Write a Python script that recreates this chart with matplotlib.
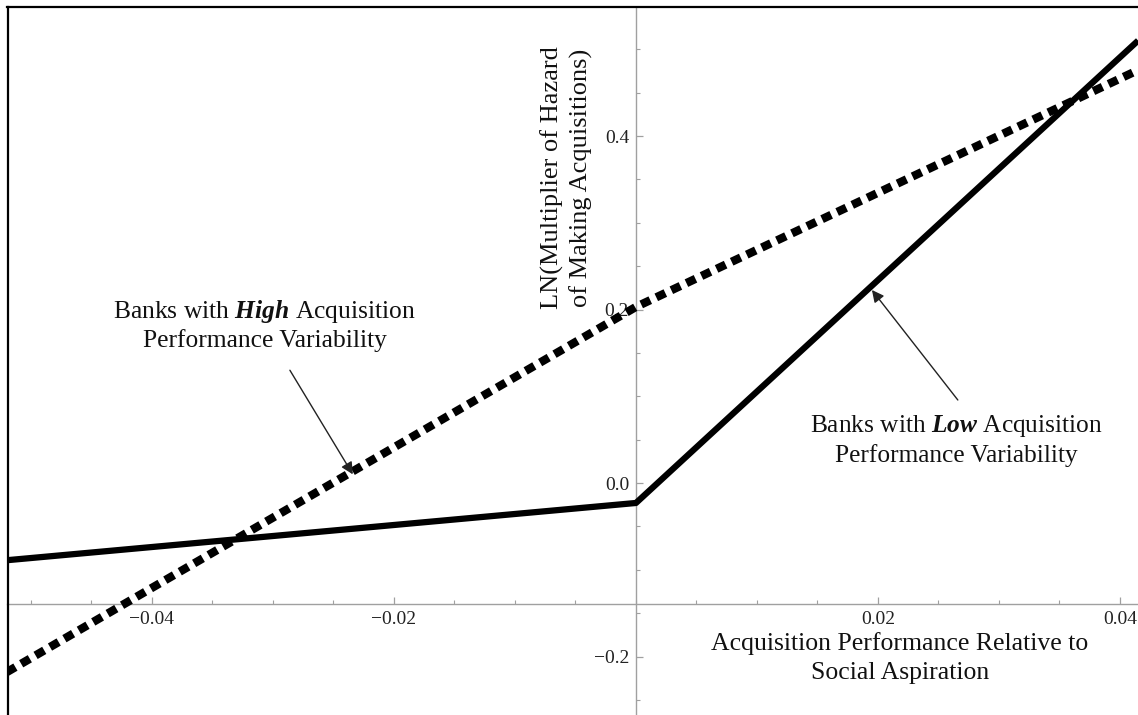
import matplotlib
matplotlib.use("Agg")
import matplotlib.pyplot as plt
from matplotlib.lines import Line2D
from matplotlib.ticker import MultipleLocator, FixedLocator

plt.rcParams['font.family'] = ['Liberation Serif', 'DejaVu Serif']
plt.rcParams['mathtext.fontset'] = 'custom'
plt.rcParams['mathtext.rm'] = 'Liberation Serif'
plt.rcParams['mathtext.it'] = 'Liberation Serif:italic'
plt.rcParams['mathtext.bf'] = 'Liberation Serif:italic:bold'

# values
perf_x = [-0.052, 0.0, 0.0415]
low_var = [-0.089, -0.023, 0.51]    # solid line
high_var = [-0.218, 0.203, 0.476]   # dotted line

x_ticks = [-0.04, -0.02, 0.02, 0.04]
x_tick_labels = ["\u22120.04", "\u22120.02", "0.02", "0.04"]
y_ticks = [-0.2, 0.0, 0.2, 0.4]
y_tick_labels = ["\u22120.2", "0.0", "0.2", "0.4"]

fig = plt.figure(figsize=(11.38, 7.15), dpi=100)
ax = fig.add_axes([7 / 1138, 0, 1131 / 1138, 708 / 715])
ax.set_xlim(-0.05198, 0.04149)
ax.set_ylim(-0.2674, 0.5487)

# mathematica style axes crossing inside the plot
ax.spines['left'].set_position(('data', 0.0))
ax.spines['bottom'].set_position(('data', -0.14))
for s in ['left', 'bottom']:
    ax.spines[s].set_color('#a0a0a0')
    ax.spines[s].set_linewidth(1.0)
ax.spines['right'].set_visible(False)
ax.spines['top'].set_color('black')
ax.spines['top'].set_linewidth(1.6)

ax.xaxis.set_major_locator(FixedLocator(x_ticks))
ax.set_xticklabels(x_tick_labels)
ax.xaxis.set_minor_locator(MultipleLocator(0.005))
ax.yaxis.set_major_locator(FixedLocator(y_ticks))
ax.set_yticklabels(y_tick_labels)
ax.yaxis.set_minor_locator(MultipleLocator(0.05))
ax.tick_params(which='both', direction='in', color='#a0a0a0', labelcolor='#222222',
               labelsize=14, top=False, right=False)
ax.tick_params(which='major', length=5, width=0.9, pad=5)
ax.tick_params(which='minor', length=3, width=0.8)

ax.plot(perf_x, low_var, color='black', lw=4.5, solid_capstyle='butt', zorder=3)
ax.plot(perf_x, high_var, color='black', lw=6, dashes=(1.2, 0.8),
        dash_capstyle='butt', zorder=3)

# left frame line of the figure
fig.add_artist(Line2D([7.5 / 1138, 7.5 / 1138], [0, 708 / 715], color='black', lw=1.6))

ax.text(0.0218, -0.2017, "Acquisition Performance Relative to\nSocial Aspiration",
        ha='center', va='center', fontsize=18.5, linespacing=1.36, color='#111111')
ax.text(-0.0057, 0.3516, "LN(Multiplier of Hazard\nof Making Acquisitions)",
        ha='center', va='center', rotation=90, fontsize=19, linespacing=1.31,
        color='#111111')

ax.text(-0.0307, 0.182, "Banks with $\\mathbf{High}$ Acquisition\nPerformance Variability",
        ha='center', va='center', fontsize=18.4, linespacing=1.24, color='#111111')
ax.annotate('', xy=(-0.0234, 0.01), xytext=(-0.0286, 0.130),
            arrowprops=dict(arrowstyle='-|>', lw=1.0, color='#222222',
                            mutation_scale=18, shrinkA=0, shrinkB=0))

ax.text(0.0265, 0.0496, "Banks with $\\mathbf{Low}$ Acquisition\nPerformance Variability",
        ha='center', va='center', fontsize=18.3, linespacing=1.24, color='#111111')
ax.annotate('', xy=(0.0195, 0.2225), xytext=(0.0266, 0.0957),
            arrowprops=dict(arrowstyle='-|>', lw=1.0, color='#222222',
                            mutation_scale=18, shrinkA=0, shrinkB=0))

fig.savefig("out.png", dpi=100, facecolor='white')
